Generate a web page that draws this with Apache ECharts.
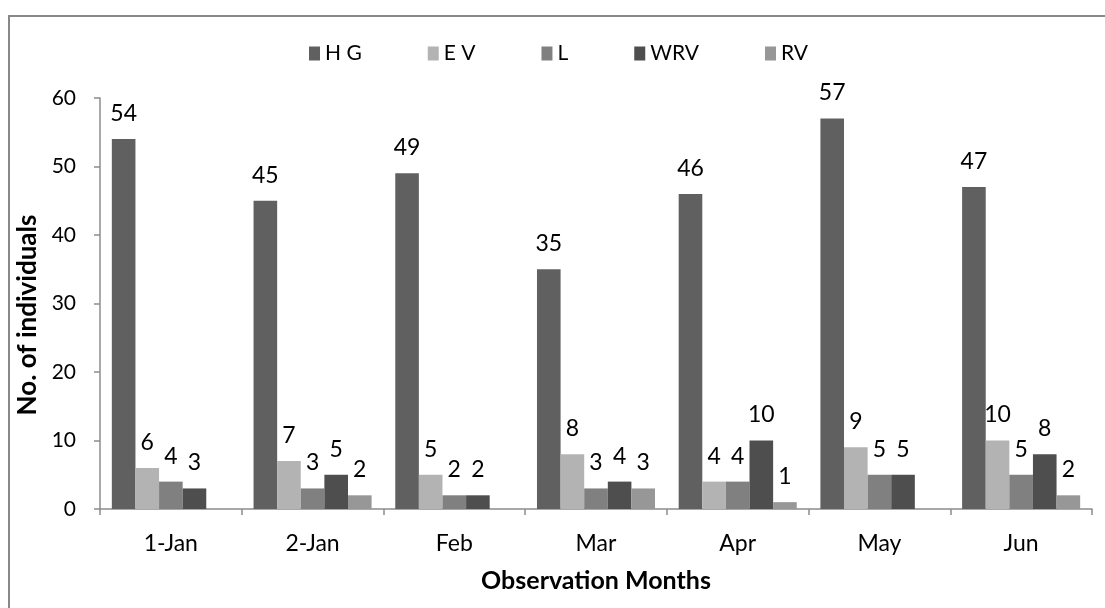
<!DOCTYPE html>
<html>
<head>
<meta charset="utf-8">
<title>No. of individuals by observation month</title>
<script src="https://cdn.jsdelivr.net/npm/echarts@6/dist/echarts.min.js"></script>
<style>
  html, body { margin: 0; padding: 0; background: #ffffff; }
  #chart { width: 1105px; height: 608px; }
</style>
</head>
<body>
<div id="chart"></div>
<script>
// Observation months on the category axis
const months = ['1-Jan', '2-Jan', 'Feb', 'Mar', 'Apr', 'May', 'Jun'];

// Counts per group (null = no record for that month)
const hg  = [54, 45, 49, 35, 46, 57, 47];
const ev  = [6, 7, 5, 8, 4, 9, 10];
const l   = [4, 3, 2, 3, 4, 5, 5];
const wrv = [3, 5, 2, 4, 10, 5, 8];
const rv  = [null, 2, null, 3, 1, null, 2];

const seriesNames = ['H G', 'E V', 'L', 'WRV', 'RV'];
const seriesData = [hg, ev, l, wrv, rv];
const seriesColors = ['#606060', '#b3b3b3', '#808080', '#4e4e4e', '#979797'];

const font = 'Lato, "Noto Sans", sans-serif';
const axisGray = '#8c8c8c';

const chart = echarts.init(document.getElementById('chart'), null, { renderer: 'canvas' });

chart.setOption({
  backgroundColor: '#ffffff',
  animation: false,
  textStyle: { fontFamily: font, color: '#000000' },
  graphic: [{
    type: 'rect',
    silent: true,
    z: -10,
    shape: { x: 9, y: 16, width: 1200, height: 700 },
    style: { fill: 'none', stroke: '#888888', lineWidth: 2 }
  }],
  legend: {
    left: 309,
    top: 43,
    itemWidth: 11,
    itemHeight: 14,
    itemGap: 66,
    icon: 'rect',
    textStyle: { fontFamily: font, fontSize: 21, color: '#000000' },
    data: seriesNames,
    padding: 0
  },
  grid: { left: 100, right: 13, top: 98, bottom: 99, containLabel: false },
  xAxis: {
    type: 'category',
    data: months,
    name: 'Observation Months',
    nameLocation: 'middle',
    nameGap: 59,
    nameTextStyle: { fontFamily: font, fontSize: 25, fontWeight: 'bold', color: '#000000' },
    axisLine: { lineStyle: { color: axisGray, width: 1.5 } },
    axisTick: { show: true, length: 6, lineStyle: { color: axisGray, width: 1.5 } },
    axisLabel: { fontFamily: font, fontSize: 23, color: '#000000', margin: 23 },
    splitLine: { show: false }
  },
  yAxis: {
    type: 'value',
    min: 0,
    max: 60,
    interval: 10,
    name: 'No. of individuals',
    nameLocation: 'middle',
    nameGap: 57,
    nameRotate: 90,
    nameTextStyle: { fontFamily: font, fontSize: 26, fontWeight: 'bold', color: '#000000', padding: [0, 23, 0, 0] },
    axisLine: { show: true, lineStyle: { color: axisGray, width: 1.5 } },
    axisTick: { show: true, length: 6, lineStyle: { color: axisGray, width: 1.5 } },
    axisLabel: { fontFamily: font, fontSize: 21, color: '#000000', margin: 24 },
    splitLine: { show: false }
  },
  series: seriesNames.map((name, i) => ({
    name: name,
    type: 'bar',
    data: seriesData[i],
    barGap: '0%',
    barCategoryGap: '16.7%',
    itemStyle: { color: seriesColors[i] },
    label: {
      show: true,
      position: 'top',
      distance: 14,
      fontFamily: font,
      fontSize: 23,
      color: '#000000'
    }
  }))
});
</script>
</body>
</html>
